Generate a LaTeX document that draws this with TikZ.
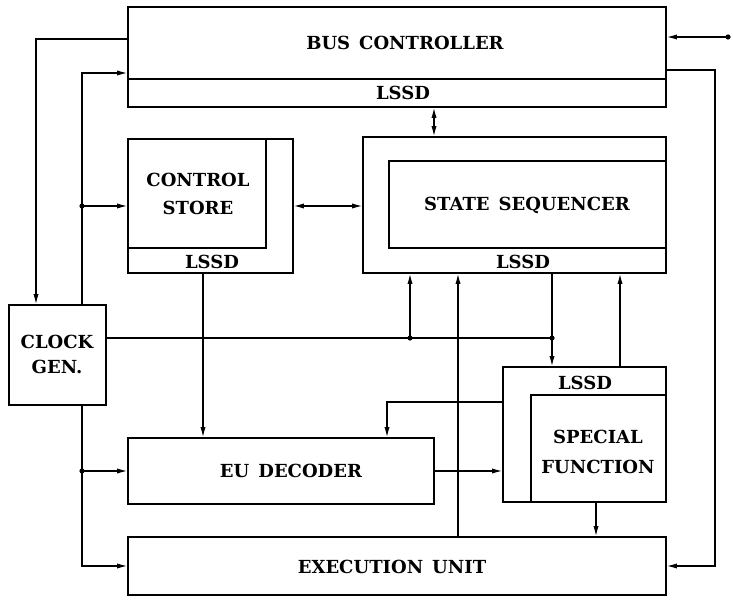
\documentclass[tikz,border=0pt]{standalone}
\usepackage{fontspec}
\setmainfont{DejaVu Serif}
\usetikzlibrary{arrows.meta, positioning}

\begin{document}
\begin{tikzpicture}[
    x=0.5pt, y=-0.5pt,
    blk/.style={rectangle, draw, line width=0.9pt, inner sep=0pt},
    lbl/.style={font=\fontsize{9}{14}\selectfont\bfseries, align=center, inner sep=1pt},
    arr/.style={-{Latex[length=5pt,width=2.6pt]}, line width=0.6pt},
    darr/.style={{Latex[length=5pt,width=2.6pt]}-{Latex[length=5pt,width=2.6pt]}, line width=0.6pt},
    wire/.style={line width=0.6pt}
  ]
    \useasboundingbox (0,0) rectangle (733,604);

    % Bus controller
    \node[blk, minimum width=269pt, minimum height=50pt] (bus) at (397,57) {};
    \node[lbl] (bustxt) at (405,43) {BUS\enspace CONTROLLER};
    \coordinate (busdiv) at (128,79);
    \draw[line width=0.9pt] (busdiv) -- (busdiv -| bus.east);
    \node[lbl] (buslssd) at (403,93) {LSSD};

    % Control store
    \node[blk, minimum width=82.5pt, minimum height=67pt] (cs) at (210.5,206) {};
    \node[blk, minimum width=69pt, minimum height=54.5pt] (csin) at (197,193.5) {};
    \node[lbl] (cstxt) at (198,194) {CONTROL\\STORE};
    \node[lbl] (cslssd) at (212,262) {LSSD};

    % State sequencer
    \node[blk, minimum width=151.5pt, minimum height=68pt] (ss) at (514.5,205) {};
    \node[blk, minimum width=138.5pt, minimum height=43.5pt] (ssin) at (527.5,204.5) {};
    \node[lbl] (sstxt) at (527,205) {STATE\enspace SEQUENCER};
    \node[lbl] (sslssd) at (523,262) {LSSD};

    % Clock generator
    \node[blk, minimum width=48.5pt, minimum height=50pt] (clk) at (57.5,355) {};
    \node[lbl] (clktxt) at (57,354) {CLOCK\\[-1.5pt]GEN.};

    % EU decoder
    \node[blk, minimum width=153pt, minimum height=33pt] (eu) at (281,471) {};
    \node[lbl] (eutxt) at (291,471) {EU\enspace DECODER};

    % Special function
    \node[blk, minimum width=81.5pt, minimum height=67.5pt] (sf) at (584.5,434.5) {};
    \node[blk, minimum width=67.5pt, minimum height=53.5pt] (sfin) at (598.5,448.5) {};
    \node[lbl] (sftxt) at (598,452) {SPECIAL\\[1pt]FUNCTION};
    \node[lbl] (sflssd) at (585,383) {LSSD};

    % Execution unit
    \node[blk, minimum width=269pt, minimum height=29pt] (exe) at (397,566) {};
    \node[lbl] (exetxt) at (392,567) {EXECUTION\enspace UNIT};

    % Wire positions
    \coordinate (xclkL) at (36,0);
    \coordinate (xclkR) at (82,0);
    \coordinate (xcs)   at (203,0);
    \coordinate (xbus)  at (434,0);
    \coordinate (xsa)   at (410,0);
    \coordinate (xsb)   at (458,0);
    \coordinate (xsc)   at (552,0);
    \coordinate (xsd)   at (620,0);
    \coordinate (xsf)   at (596,0);
    \coordinate (xrt)   at (715,0);
    \coordinate (xfb)   at (387,402);
    \coordinate (xin)   at (728,37);
    \coordinate (yclk)  at (0,338);

    % Clock lines on the left
    \draw[arr] ([yshift=9pt]bus.west) -| (xclkL |- clk.north);
    \draw[arr] (xclkR |- clk.north) |- ([yshift=-8pt]bus.west);
    \coordinate (jcs) at (xclkR |- cs.west);
    \fill (jcs) circle[radius=1.3pt];
    \draw[arr] (jcs) -- (cs.west);
    \draw[arr] (xclkR |- clk.south) |- (exe.west);
    \coordinate (jeu) at (xclkR |- eu.west);
    \fill (jeu) circle[radius=1.3pt];
    \draw[arr] (jeu) -- (eu.west);

    % Clock line to the sequencer
    \draw[wire] (clk.east |- yclk) -- (xsc |- yclk);
    \coordinate (ja) at (xsa |- yclk);
    \coordinate (jb) at (xsc |- yclk);
    \fill (ja) circle[radius=1.3pt];
    \fill (jb) circle[radius=1.3pt];
    \draw[arr] (ja) -- (xsa |- ss.south);
    \draw[arr] (xsc |- ss.south) -- (xsc |- sf.north);
    \draw[arr] (xsb |- exe.north) -- (xsb |- ss.south);
    \draw[arr] (xsd |- sf.north) -- (xsd |- ss.south);

    % Store, bus and sequencer
    \draw[darr] (cs.east) -- (cs.east -| ss.west);
    \draw[darr] (xbus |- bus.south) -- (xbus |- ss.north);
    \draw[arr] (xcs |- cs.south) -- (xcs |- eu.north);

    % Decoder and special function
    \draw[arr] (sf.west |- xfb) -| (xfb |- eu.north);
    \draw[arr] (eu.east) -- (eu.east -| sf.west);
    \draw[arr] (xsf |- sf.south) -- (xsf |- exe.north);

    % Right side
    \draw[arr] ([yshift=-6.5pt]bus.east) -| (xrt |- exe.east) -- (exe.east);
    \fill (xin) circle[radius=1.3pt];
    \draw[arr] (xin) -- (xin -| bus.east);

  \end{tikzpicture}
\end{document}
